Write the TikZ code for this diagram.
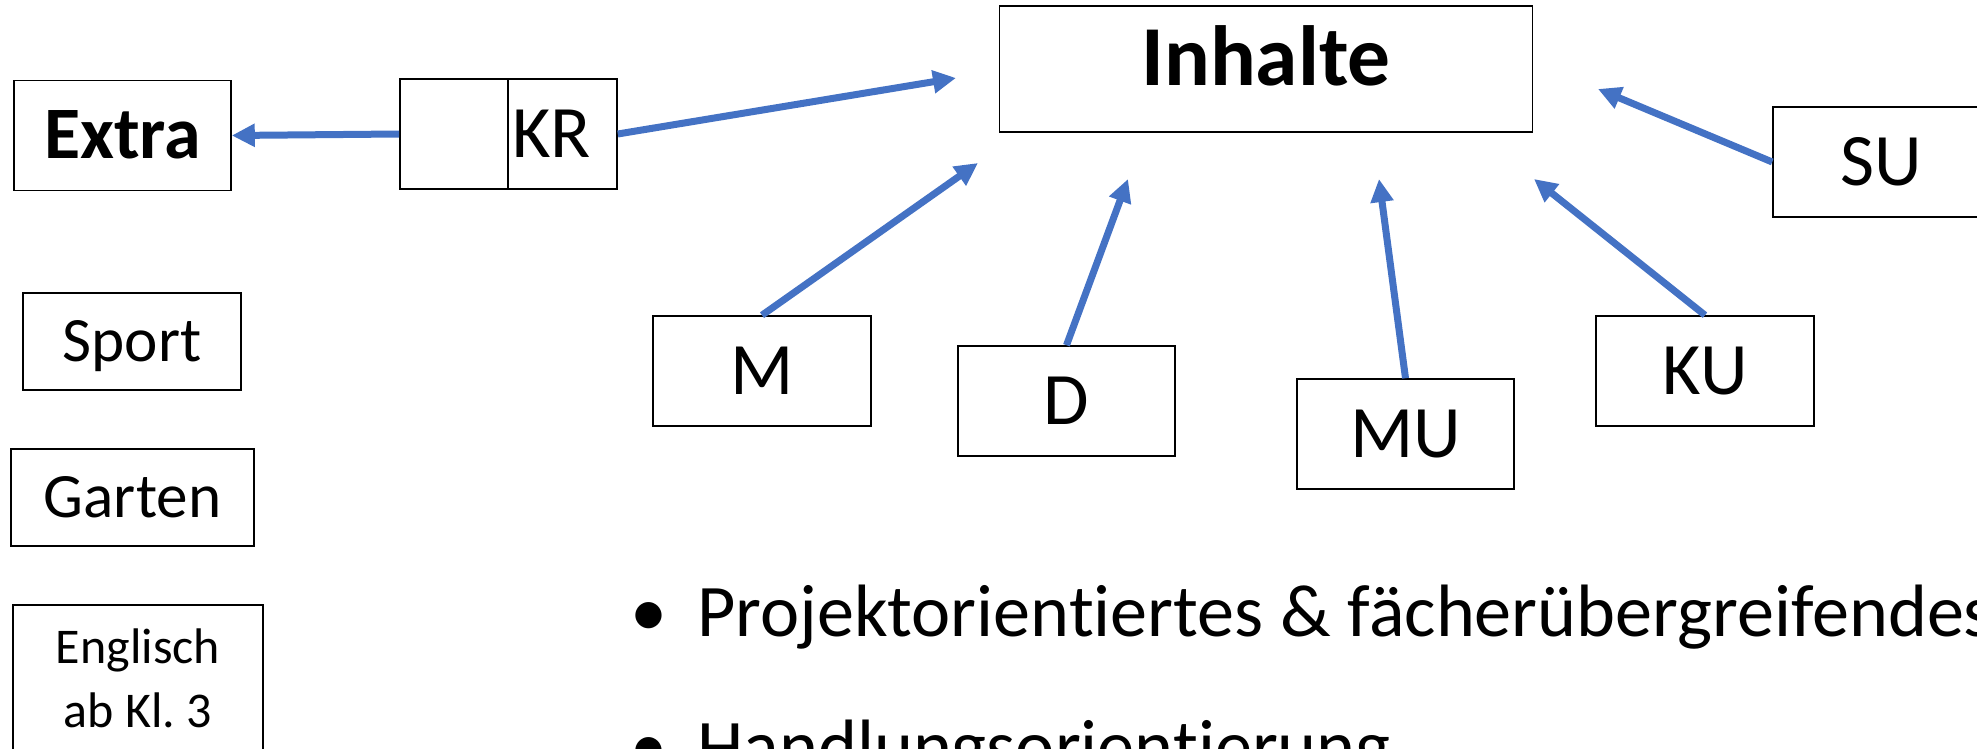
\documentclass[tikz,border=0pt]{standalone}
\usepackage{fontspec}
\setmainfont{Carlito}[Ligatures=NoCommon]
\usepackage{tikz}
\usetikzlibrary{arrows.meta}
\definecolor{pfeilblau}{HTML}{4472C4}
\tikzset{kasten/.style = {draw, line width=0.8pt, inner sep=0pt,
                          minimum width=108.5pt, minimum height=55pt,
                          text height=23.4pt, text depth=0pt,
                          font=\fontsize{37}{44}\selectfont},
         pfeil/.style = {draw=pfeilblau, line width=3.5pt,
                         -{Triangle[length=11.5pt, width=11pt]}}}

\begin{document}
\begin{tikzpicture}[x=0.5pt, y=-0.5pt]
    \useasboundingbox (0, 0) rectangle (1977, 749);
    \clip (0, 0) rectangle (1977, 749);
    \node [kasten, minimum width=266.5pt, minimum height=63pt, text height=27pt, text depth=10pt,
           font=\fontsize{42.7}{50}\selectfont\bfseries] (inhalte) at (1266, 69) {Inhalte};
    \node [kasten, font=\fontsize{37}{44}\selectfont\bfseries] (extra) at (122.5, 135.5) {Extra};
    \node [kasten, minimum width=54pt] (krleer) at (454, 134) {};
    \node [kasten, minimum width=54.5pt, text width=50.5pt, inner xsep=2pt, align=left] (kr) at (562.5, 134) {KR};
    \node [kasten, minimum width=109pt, minimum height=48.5pt, text height=20pt,
           font=\fontsize{31.6}{38}\selectfont] (sport) at (132, 341.5) {Sport};
    \node [kasten, minimum width=121.5pt, minimum height=48.5pt, text height=20pt,
           font=\fontsize{31.6}{38}\selectfont] (garten) at (132.5, 497.5) {Garten};
    \node [kasten, minimum width=125pt, minimum height=74pt, text height=48pt, text depth=0pt,
           align=center, font=\fontsize{25}{32}\selectfont] (englisch) at (138, 679) {Englisch\\ab Kl.\ 3};
    \node [kasten, minimum width=109pt] (m) at (762, 371) {M};
    \node [kasten] (d) at (1066.5, 401) {D};
    \node [kasten] (mu) at (1405.5, 434) {MU};
    \node [kasten, minimum width=109pt] (ku) at (1705, 371) {KU};
    \node [kasten] (su) at (1881.5, 162) {SU};
    \coordinate (zielKR) at (956, 78);
    \coordinate (zielM) at (978, 163);
    \coordinate (zielD) at (1128, 179);
    \coordinate (zielMU) at (1379, 179);
    \coordinate (zielKU) at (1534, 179);
    \coordinate (zielSU) at (1598, 89);
    \draw [pfeil] (krleer.west) -- (extra.east);
    \draw [pfeil] (kr.east) -- (zielKR);
    \draw [pfeil] (m.north) -- (zielM);
    \draw [pfeil] (d.north) -- (zielD);
    \draw [pfeil] (mu.north) -- (zielMU);
    \draw [pfeil] (ku.north) -- (zielKU);
    \draw [pfeil] (su.west) -- (zielSU);
    \node [anchor=base west, inner sep=0pt, font=\fontsize{37.1}{46}\selectfont] (punkt1) at (697, 636)
          {\llap{•\hspace{15pt}}Projektorientiertes \& fächerübergreifendes};
    \node [anchor=base west, inner sep=0pt, font=\fontsize{37.1}{46}\selectfont] (punkt2) at (697, 771)
          {\llap{•\hspace{15pt}}Handlungsorientierung};
  \end{tikzpicture}
\end{document}
